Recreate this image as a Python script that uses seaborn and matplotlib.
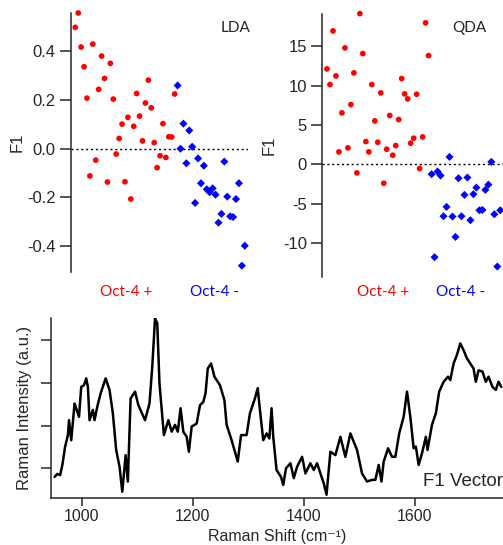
import numpy as np
import pandas as pd
import matplotlib
matplotlib.use("Agg")
import matplotlib.pyplot as plt
import seaborn as sns

# --- data ---
GROUPS = ["Oct-4 +", "Oct-4 -"]
GROUP_COLORS = {"Oct-4 +": "#ff0000", "Oct-4 -": "#0000ff"}
GROUP_MARKERS = {"Oct-4 +": "o", "Oct-4 -": "D"}

# LDA F1 scores, one value per spectrum (sample order as plotted)
lda_pos = [0.499, 0.558, 0.418, 0.337, 0.208, -0.112, 0.430, -0.047, 0.244, 0.381,
           0.289, -0.137, 0.351, 0.204, -0.022, 0.042, 0.101, -0.136, 0.129, -0.207,
           0.092, 0.227, 0.134, 0.032, 0.188, 0.282, 0.168, 0.025, -0.078, -0.029,
           0.103, -0.036, 0.049, 0.048, 0.225]
lda_neg = [0.260, 0.000, 0.103, -0.060, 0.075, 0.008, -0.223, -0.040, -0.142, -0.070,
           -0.167, -0.179, -0.163, -0.189, -0.304, -0.268, -0.053, -0.197, -0.278, -0.281,
           -0.207, -0.142, -0.481, -0.399]

# QDA F1 scores
qda_pos = [12.12, 10.13, 16.95, 11.23, 1.57, 6.53, 14.79, 2.08, 7.58, 11.61,
           -1.10, 19.15, 14.07, 2.88, 1.57, 10.13, 5.51, 2.80, 9.07, -2.42,
           1.91, 6.19, 1.14, 2.37, 5.68, 10.89, 8.94, 8.31, 2.67, 3.31,
           8.90, -0.55, 3.47, 17.97, 13.81]
qda_neg = [-1.27, -11.82, -0.93, -1.44, -6.61, -5.42, 0.93, -6.65, -9.24, -1.78,
           -6.61, -3.90, -1.69, -7.12, -3.81, -2.97, -5.85, -5.81, -3.26, -2.60,
           0.30, -6.36, -13.01, -5.85]

# F1 loading vector (arbitrary units)
raman_shift = [951, 956, 961, 965, 970, 975, 977, 981, 987, 995,
               999, 1004, 1008, 1011, 1014, 1020, 1023, 1028, 1034, 1043,
               1050, 1056, 1062, 1068, 1073, 1079, 1083, 1088, 1096, 1102,
               1114, 1122, 1127, 1132, 1136, 1140, 1144, 1148, 1156, 1162,
               1168, 1173, 1178, 1183, 1189, 1193, 1198, 1207, 1213, 1219,
               1223, 1227, 1233, 1239, 1249, 1257, 1261, 1270, 1281, 1287,
               1297, 1303, 1312, 1317, 1321, 1327, 1333, 1338, 1342, 1345,
               1351, 1359, 1363, 1368, 1376, 1382, 1388, 1397, 1403, 1412,
               1418, 1424, 1430, 1436, 1441, 1448, 1457, 1466, 1475, 1484,
               1496, 1505, 1514, 1523, 1529, 1535, 1540, 1544, 1552, 1559,
               1565, 1572, 1580, 1586, 1592, 1598, 1602, 1607, 1613, 1620,
               1623, 1631, 1638, 1644, 1652, 1660, 1664, 1670, 1676, 1682,
               1688, 1694, 1700, 1706, 1710, 1715, 1722, 1728, 1733, 1740,
               1746, 1751, 1756]
f1_vector = [0.80, 0.87, 0.84, 1.08, 1.51, 1.78, 2.13, 1.66, 2.52, 2.21,
             2.91, 2.95, 3.11, 2.91, 2.13, 2.37, 2.13, 2.45, 2.76, 3.11,
             2.84, 2.29, 1.43, 1.04, 0.45, 1.31, 0.69, 2.64, 2.80, 2.48,
             2.13, 2.52, 3.38, 4.52, 4.40, 2.99, 2.37, 1.78, 2.13, 1.86,
             2.02, 1.86, 2.41, 1.86, 1.74, 1.39, 1.98, 2.05, 2.48, 2.56,
             2.76, 3.34, 3.46, 3.15, 2.95, 2.60, 2.02, 1.66, 1.16, 1.78,
             1.78, 2.29, 2.64, 2.88, 2.37, 1.66, 1.82, 1.70, 2.41, 1.74,
             0.96, 0.80, 0.61, 1.00, 1.12, 0.77, 1.04, 1.27, 0.88, 1.12,
             0.96, 1.12, 0.88, 0.65, 0.38, 1.39, 1.31, 1.74, 1.27, 1.82,
             1.43, 0.88, 0.69, 0.73, 0.73, 1.08, 0.69, 1.16, 1.47, 1.27,
             1.27, 1.82, 2.21, 2.80, 2.21, 1.47, 1.51, 1.08, 1.35, 1.74,
             1.43, 2.02, 2.29, 2.80, 3.03, 3.15, 3.07, 3.46, 3.66, 3.93,
             3.77, 3.58, 3.46, 3.34, 3.03, 3.30, 3.27, 3.03, 3.15, 2.91,
             2.84, 3.03, 2.91]

W, H = 503, 545


def scores_frame(pos, neg):
    return pd.DataFrame({
        "sample": np.arange(len(pos) + len(neg)),
        "F1": list(pos) + list(neg),
        "group": [GROUPS[0]] * len(pos) + [GROUPS[1]] * len(neg),
    })


def px_axes(fig, left, top, right, bottom):
    # axes box given in pixel coords of the 503x545 picture
    return fig.add_axes([left / W, 1 - bottom / H, (right - left) / W, (bottom - top) / H])


sns.set_style("ticks")
plt.rcParams["font.family"] = ["Liberation Sans", "DejaVu Sans"]
plt.rcParams["axes.linewidth"] = 1.1

fig = plt.figure(figsize=(W / 100, H / 100), dpi=100)

# --- score plots ---
panels = [
    # name, pos, neg, box (l, t, r, b), xlim, ylim, yticks, tick labels, group label x, name x
    ("LDA", lda_pos, lda_neg, (71, 13, 248, 272), (-1.47, 59.1), (-0.507, 0.558),
     [-0.4, -0.2, 0.0, 0.2, 0.4], ["-0.4", "-0.2", "0.0", "0.2", "0.4"], (126.5, 215), 236),
    ("QDA", qda_pos, qda_neg, (322.3, 14, 503, 276.7), (-1.57, 58.9), (-14.3, 19.1),
     [-10, -5, 0, 5, 10, 15], ["-10", "-5", "0", "5", "10", "15"], (383, 461), 469),
]
for name, pos, neg, box, xlim, ylim, yticks, ylabels, gx, nx in panels:
    ax = px_axes(fig, *box)
    df = scores_frame(pos, neg)
    ax.axhline(0, color="black", ls=(0, (1.5, 2)), lw=1.0, zorder=1)
    sns.scatterplot(data=df, x="sample", y="F1", hue="group", style="group",
                    palette=GROUP_COLORS, markers=GROUP_MARKERS, s=17,
                    linewidth=0, legend=False, ax=ax, zorder=3, clip_on=False)
    ax.set_xlim(*xlim)
    ax.set_ylim(*ylim)
    ax.set_yticks(yticks)
    ax.set_yticklabels(ylabels)
    ax.tick_params(axis="y", direction="out", length=8, width=1.1, pad=3, labelsize=12)
    ax.set_xticks([])
    ax.set_xlabel("")
    ax.set_ylabel("F1", fontsize=12)
    ax.yaxis.set_label_coords(-46 / (box[2] - box[0]), 0.5)
    for s in ["top", "right", "bottom"]:
        ax.spines[s].set_visible(False)
    fig.text(nx / W, 1 - 28 / H, name, ha="center", va="center", fontsize=11,
             family=["Lato", "DejaVu Sans"])
    for label, x in zip(GROUPS, gx):
        fig.text(x / W, 1 - 292 / H, label, ha="center", va="center", fontsize=11,
                 color=GROUP_COLORS[label], family=["Lato", "DejaVu Sans"])

# --- F1 vector ---
ax = px_axes(fig, 50.7, 318.3, 503, 498.3)
spec = pd.DataFrame({"shift": raman_shift, "F1": f1_vector})
sns.lineplot(data=spec, x="shift", y="F1", color="black", lw=1.8, ax=ax)
ax.set_xlim(944, 1759)
ax.set_ylim(0.297, 4.52)
ax.set_xticks([1000, 1200, 1400, 1600])
ax.set_yticks([1, 2, 3, 4])
ax.set_yticklabels([])
ax.tick_params(axis="x", direction="out", length=6, width=1.1, pad=2, labelsize=11.5)
ax.tick_params(axis="y", direction="out", length=7, width=1.1)
# label sits right at the bottom edge, as in the original
ax.set_xlabel("Raman Shift (cm\u207b\u00b9)", fontsize=11.5)
ax.xaxis.set_label_coords(0.5, -(544 - 498.3) / 180)
ax.xaxis.label.set_va("bottom")
ax.set_ylabel("Raman Intensity (a.u.)", fontsize=12)
ax.yaxis.set_label_coords(-19 / 452.3, 0.5)
for s in ["top", "right"]:
    ax.spines[s].set_visible(False)
ax.text(1.0, 0.095, "F1 Vector", transform=ax.transAxes, ha="right", va="center",
        fontsize=13.5)

fig.savefig("out.png", dpi=100)
